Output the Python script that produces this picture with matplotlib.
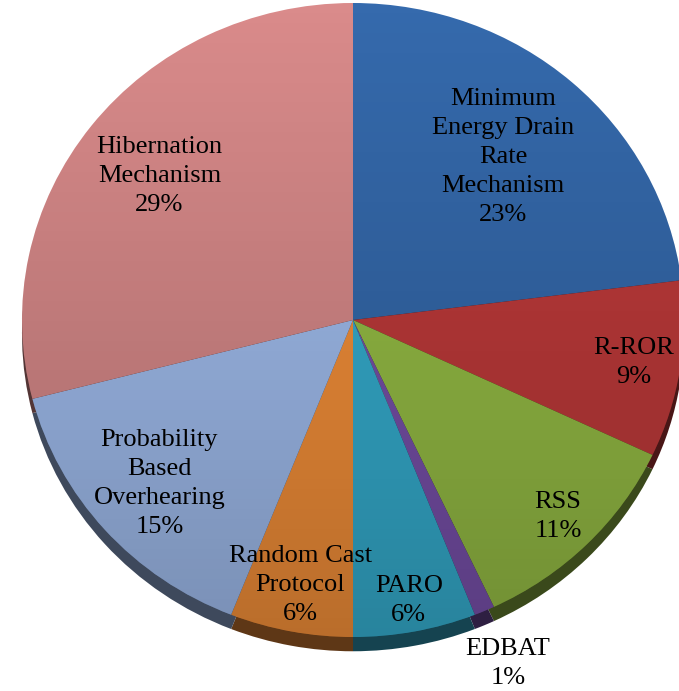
import numpy as np
import matplotlib.pyplot as plt
from matplotlib.patches import Ellipse
from matplotlib.colors import to_rgb

# data, clockwise from 12 o'clock
labels = ['Minimum\nEnergy Drain\nRate\nMechanism', 'R-ROR', 'RSS', 'EDBAT',
          'PARO', 'Random Cast\nProtocol', 'Probability\nBased\nOverhearing',
          'Hibernation\nMechanism']
values = [23, 9, 11, 1, 6, 6, 15, 29]
colors = ['#356AAD', '#C13B3B', '#98C046', '#7A52AD',
          '#36B0D2', '#F8923A', '#A3C0F2', '#DA8B8B']
# radial position of each label (fraction of radius)
label_r = [0.685, 0.86, 0.876, 1.18, 0.9, 0.85, 0.78, 0.74]

fig = plt.figure(figsize=(6.79, 6.91), dpi=100)
ax = fig.add_axes([0, 0, 1, 1])

depth = 0.045
dark = [tuple(c * 0.38 for c in to_rgb(col)) for col in colors]

# side of the 3d pie
ax.pie(values, colors=dark, startangle=90, counterclock=False,
       center=(0, -depth), wedgeprops=dict(linewidth=0))
# top face
wedges, _ = ax.pie(values, colors=colors, startangle=90, counterclock=False,
                   wedgeprops=dict(linewidth=0))

# vertical shading on the top face
grad = np.zeros((256, 2, 4))
grad[:, :, 3] = np.linspace(0.25, 0.0, 256)[:, None]
clip = Ellipse((0, 0), 2, 2, transform=ax.transData, facecolor='none', edgecolor='none')
ax.add_patch(clip)
img = ax.imshow(grad, extent=(-1, 1, -1, 1), origin='lower', aspect='auto', zorder=3)
img.set_clip_path(clip)

# labels
cum = np.cumsum([0] + values[:-1])
total = sum(values)
for lab, v, c0, r in zip(labels, values, cum, label_r):
    ang = np.deg2rad(90 - 360 * (c0 + v / 2) / total)
    ax.text(r * np.cos(ang), r * np.sin(ang), f'{lab}\n{v}%', ha='center', va='center',
            fontsize=19, family='Liberation Serif', linespacing=1.42, zorder=5)

ax.set_aspect('auto')
ax.set_xlim(-353 / 331, (679 - 353) / 331)
ax.set_ylim(-371 / 317, 320 / 317)
ax.axis('off')

fig.savefig('out.png', dpi=100)
